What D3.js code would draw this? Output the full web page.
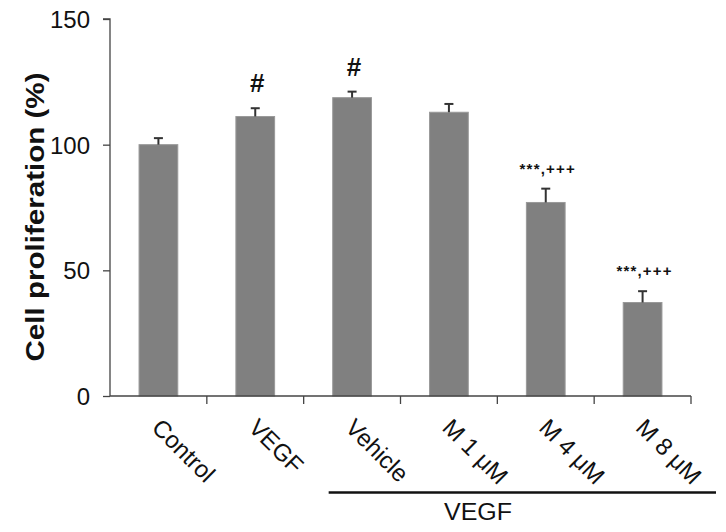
<!DOCTYPE html>
<html>
<head>
<meta charset="utf-8">
<script src="https://cdn.jsdelivr.net/npm/d3@7"></script>
<style>
  body { margin: 0; background: #fff; }
  text { font-family: Arial, "Liberation Sans", sans-serif; fill: #111; }
</style>
</head>
<body>
<div id="chart"></div>
<script>
// chart data
var groups = ["Control", "VEGF", "Vehicle", "M 1 \u03bcM", "M 4 \u03bcM", "M 8 \u03bcM"];
var values = [100, 111.2, 118.7, 112.9, 77, 37.2];
var errors = [2.6, 3.3, 2.4, 3.3, 5.5, 4.5];
var marks = ["", "#", "#", "", "***,+++", "***,+++"];
var yTicks = [0, 50, 100, 150];
var groupLabel = "VEGF";
var yLabel = "Cell proliferation (%)";

var width = 726, height = 532;
var x0 = 110, x1 = 691, yTop = 19, yBot = 396;

var svg = d3.select('#chart').append('svg')
    .attr('width', width)
    .attr('height', height);

var x = d3.scaleBand().domain(groups).range([x0, x1]).paddingInner(0.6).paddingOuter(0.3);
var xb = d3.scaleBand().domain(groups).range([x0, x1]); // tick positions
var y = d3.scaleLinear().domain([0, 150]).range([yBot, yTop]);

function cx(i) { return xb(groups[i]) + xb.bandwidth() / 2; }

// bars
svg.selectAll('rect.bar')
    .data(values)
    .enter()
    .append('rect')
    .attr('class', 'bar')
    .attr('x', function(d, i) { return cx(i) - x.bandwidth() / 2; })
    .attr('width', x.bandwidth())
    .attr('y', function(d) { return y(d); })
    .attr('height', function(d) { return y(0) - y(d); })
    .style('fill', '#808080')
    .style('stroke', '#999')
    .style('stroke-width', 1);

// error bars (upper only)
var eb = svg.selectAll('g.err')
    .data(values)
    .enter()
    .append('g')
    .attr('class', 'err');
eb.append('line')
    .attr('x1', function(d, i) { return cx(i); })
    .attr('x2', function(d, i) { return cx(i); })
    .attr('y1', function(d) { return y(d); })
    .attr('y2', function(d, i) { return y(d + errors[i]); })
    .style('stroke', '#333').style('stroke-width', 2);
eb.append('line')
    .attr('x1', function(d, i) { return cx(i) - 4.5; })
    .attr('x2', function(d, i) { return cx(i) + 4.5; })
    .attr('y1', function(d, i) { return y(d + errors[i]); })
    .attr('y2', function(d, i) { return y(d + errors[i]); })
    .style('stroke', '#333').style('stroke-width', 2);

// significance marks
svg.selectAll('text.mark')
    .data(marks)
    .enter()
    .append('text')
    .attr('class', 'mark')
    .attr('x', function(d, i) { return cx(i) + 2; })
    .attr('y', function(d, i) { return y(values[i] + errors[i]) - (d === '#' ? 16 : 15); })
    .attr('text-anchor', 'middle')
    .style('font-size', function(d) { return d === '#' ? '26px' : '15px'; })
    .style('font-weight', 'bold')
    .style('letter-spacing', function(d) { return d === '#' ? '0' : '1.2px'; })
    .text(function(d) { return d; });

// y axis
var yAxis = d3.axisLeft(y).tickValues(yTicks).tickSize(7).tickPadding(13);
var gy = svg.append('g').attr('transform', 'translate(' + x0 + ',0)').call(yAxis);
gy.selectAll('text').style('font-size', '24px').style('fill', '#111').attr('dy', '0.36em');
gy.selectAll('line, path').style('stroke', '#444').style('stroke-width', 1.3);
gy.select('path').attr('d', 'M-7,' + yTop + 'H0V' + yBot);

// x axis
var gx = svg.append('g').attr('class', 'xaxis');
gx.append('line')
    .attr('x1', x0).attr('x2', x1)
    .attr('y1', yBot).attr('y2', yBot)
    .style('stroke', '#444').style('stroke-width', 1.3);
gx.selectAll('line.tick')
    .data(groups)
    .enter()
    .append('line')
    .attr('class', 'tick')
    .attr('x1', function(d) { return xb(d) + xb.bandwidth(); })
    .attr('x2', function(d) { return xb(d) + xb.bandwidth(); })
    .attr('y1', yBot).attr('y2', yBot + 8)
    .style('stroke', '#444').style('stroke-width', 1.3);
gx.selectAll('text')
    .data(groups)
    .enter()
    .append('text')
    .attr('transform', function(d, i) {
        return 'translate(' + (cx(i) - 8) + ',' + (yBot + 33) + ') rotate(45)';
    })
    .style('font-size', '24px')
    .text(function(d) { return d; });

// VEGF group bracket
var gStart = xb(groups[2]) + 25, gEnd = x1 + 25;
svg.append('line')
    .attr('x1', gStart).attr('x2', gEnd)
    .attr('y1', 492.5).attr('y2', 492.5)
    .style('stroke', '#111').style('stroke-width', 2.5);
svg.append('text')
    .attr('x', 478)
    .attr('y', 520)
    .attr('text-anchor', 'middle')
    .style('font-size', '23px')
    .attr('textLength', 68)
    .attr('lengthAdjust', 'spacingAndGlyphs')
    .text(groupLabel);

// y label
svg.append('text')
    .attr('transform', 'translate(44,217) rotate(-90)')
    .attr('text-anchor', 'middle')
    .style('font-size', '25px')
    .style('font-weight', 'bold')
    .attr('textLength', 289)
    .attr('lengthAdjust', 'spacingAndGlyphs')
    .text(yLabel);
</script>
</body>
</html>
